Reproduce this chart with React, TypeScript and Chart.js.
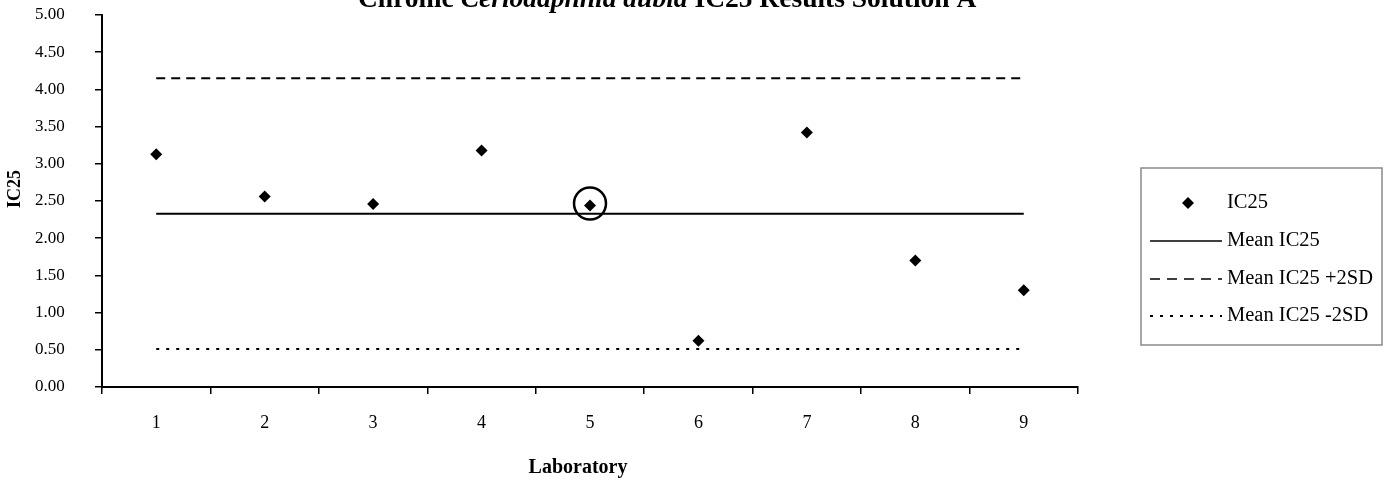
import React, { useEffect, useRef } from "react";
import { Chart, registerables } from "chart.js";

Chart.register(...registerables);

// ---- data ----
const laboratories = ["1", "2", "3", "4", "5", "6", "7", "8", "9"];
const ic25Values = [3.13, 2.56, 2.46, 3.18, 2.44, 0.62, 3.42, 1.7, 1.3];
const meanIC25 = [2.33, 2.33, 2.33, 2.33, 2.33, 2.33, 2.33, 2.33, 2.33];
const meanPlus2SD = [4.15, 4.15, 4.15, 4.15, 4.15, 4.15, 4.15, 4.15, 4.15];
const meanMinus2SD = [0.51, 0.51, 0.51, 0.51, 0.51, 0.51, 0.51, 0.51, 0.51];
const yMin = 0;
const yMax = 5;
const yStep = 0.5;
const circledLab = "5";

const seriesNames = ["IC25", "Mean IC25", "Mean IC25 +2SD", "Mean IC25 -2SD"];
const titleParts = [
  { text: "Chronic ", italic: false },
  { text: "Ceriodaphnia dubia", italic: true },
  { text: " IC25 Results Solution A", italic: false },
];
const xAxisTitle = "Laboratory";
const yAxisTitle = "IC25";

const SERIF = '"Liberation Serif", "Times New Roman", serif';

const DASH = [9, 6];
const DOT = [3, 7];

const decorPlugin = {
  id: "decor",
  afterDraw(chart: any) {
    const ctx: CanvasRenderingContext2D = chart.ctx;
    ctx.save();
    ctx.fillStyle = "#000";
    ctx.strokeStyle = "#000";

    // title (partly clipped at top, as in the scan)
    ctx.textBaseline = "alphabetic";
    ctx.textAlign = "left";
    let tx = 358;
    for (const p of titleParts) {
      ctx.font = `${p.italic ? "italic " : ""}bold 27.5px ${SERIF}`;
      ctx.fillText(p.text, tx, 7);
      tx += ctx.measureText(p.text).width;
    }

    // axis titles
    ctx.font = `bold 20px ${SERIF}`;
    ctx.textAlign = "center";
    ctx.textBaseline = "middle";
    ctx.fillText(xAxisTitle, 578, 468);
    ctx.font = `bold 18px ${SERIF}`;
    ctx.save();
    ctx.translate(15, 189);
    ctx.rotate(-Math.PI / 2);
    ctx.fillText(yAxisTitle, 0, 0);
    ctx.restore();

    // circle around the highlighted lab
    const idx = laboratories.indexOf(circledLab);
    const pt = chart.getDatasetMeta(0).data[idx];
    if (pt) {
      ctx.beginPath();
      ctx.lineWidth = 2.5;
      ctx.arc(pt.x, pt.y - 2, 16, 0, Math.PI * 2);
      ctx.stroke();
    }

    // legend
    const bx = 1141, by = 168, bw = 241, bh = 177;
    ctx.lineWidth = 1.5;
    ctx.strokeStyle = "#8a8a8a";
    ctx.setLineDash([]);
    ctx.strokeRect(bx, by, bw, bh);
    const rows = [203, 241, 279, 316];
    ctx.strokeStyle = "#000";
    ctx.font = `20.5px ${SERIF}`;
    ctx.textAlign = "left";
    ctx.textBaseline = "middle";
    rows.forEach((ry, i) => {
      if (i === 0) {
        const r = 6;
        ctx.beginPath();
        ctx.moveTo(1188, ry - r);
        ctx.lineTo(1188 + r, ry);
        ctx.lineTo(1188, ry + r);
        ctx.lineTo(1188 - r, ry);
        ctx.closePath();
        ctx.fill();
      } else {
        ctx.beginPath();
        ctx.lineWidth = i === 3 ? 2 : 1.5;
        ctx.setLineDash(i === 1 ? [] : i === 2 ? [10, 7] : DOT);
        ctx.moveTo(1150, ry);
        ctx.lineTo(1222, ry);
        ctx.stroke();
        ctx.setLineDash([]);
      }
      ctx.fillText(seriesNames[i], 1227, ry);
    });
    ctx.restore();
  },
};

export default function App() {
  const canvasRef = useRef<HTMLCanvasElement | null>(null);

  useEffect(() => {
    if (!canvasRef.current) return;
    const chart = new Chart(canvasRef.current, {
      type: "line",
      data: {
        labels: laboratories,
        datasets: [
          {
            label: seriesNames[0],
            data: ic25Values,
            showLine: false,
            pointStyle: "rectRot",
            pointRadius: 6,
            pointBackgroundColor: "#000",
            pointBorderColor: "#000",
            pointBorderWidth: 0,
            borderColor: "#000",
            backgroundColor: "#000",
            order: 0,
          },
          {
            label: seriesNames[1],
            data: meanIC25,
            borderColor: "#000",
            borderWidth: 2,
            pointRadius: 0,
            fill: false,
          },
          {
            label: seriesNames[2],
            data: meanPlus2SD,
            borderColor: "#000",
            borderWidth: 2,
            borderDash: DASH,
            pointRadius: 0,
            fill: false,
          },
          {
            label: seriesNames[3],
            data: meanMinus2SD,
            borderColor: "#000",
            borderWidth: 2,
            borderDash: DOT,
            pointRadius: 0,
            fill: false,
          },
        ],
      },
      options: {
        animation: false,
        responsive: true,
        maintainAspectRatio: false,
        layout: { padding: { left: 35, top: 15, right: 309, bottom: 0 } },
        plugins: {
          legend: { display: false },
          title: { display: false },
          tooltip: { enabled: false },
        },
        scales: {
          x: {
            type: "category",
            offset: true,
            grid: {
              offset: true,
              drawOnChartArea: false,
              drawTicks: true,
              tickLength: 7,
              color: "#000",
              lineWidth: 1.5,
            },
            border: { display: true, color: "#000", width: 2 },
            ticks: {
              color: "#000",
              font: { family: SERIF, size: 18 },
              padding: 18,
              maxRotation: 0,
            },
            afterFit(scale: any) {
              scale.height = 102;
            },
          },
          y: {
            min: yMin,
            max: yMax,
            grid: {
              drawOnChartArea: false,
              drawTicks: true,
              tickLength: 7,
              color: "#000",
              lineWidth: 1.5,
            },
            border: { display: true, color: "#000", width: 2 },
            ticks: {
              stepSize: yStep,
              color: "#000",
              font: { family: SERIF, size: 17 },
              padding: 2,
              crossAlign: "far",
              callback: (v: any) => Number(v).toFixed(2),
            },
            afterFit(scale: any) {
              scale.width = 67;
            },
          },
        },
      },
      plugins: [decorPlugin],
    });
    return () => chart.destroy();
  }, []);

  return (
    <div
      style={{
        position: "fixed",
        left: 0,
        top: 0,
        width: 1387,
        height: 489,
        background: "#fff",
      }}
    >
      <canvas ref={canvasRef} />
    </div>
  );
}
